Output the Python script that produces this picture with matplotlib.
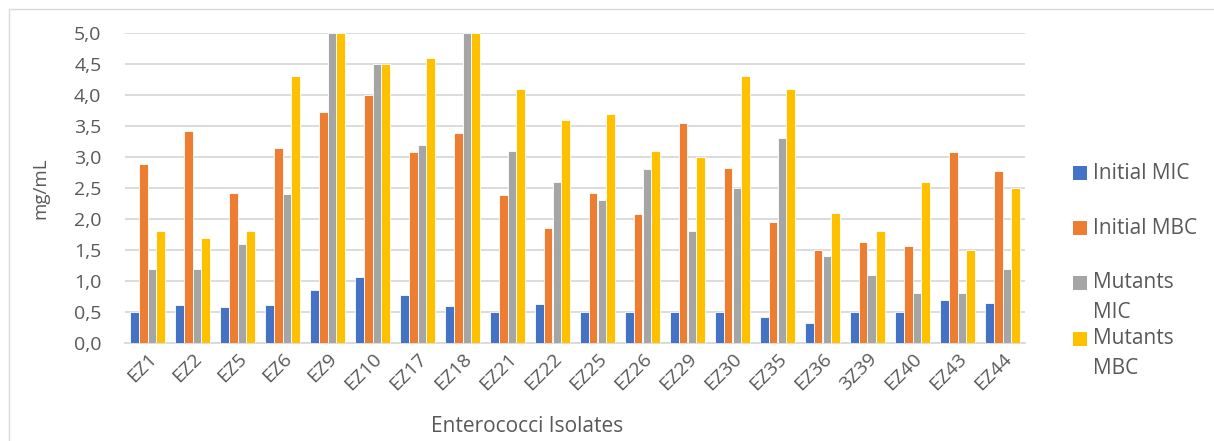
import matplotlib
matplotlib.use("Agg")
import matplotlib.pyplot as plt
import numpy as np
from matplotlib.patches import Rectangle
from matplotlib.ticker import FuncFormatter

categories = ["EZ1", "EZ2", "EZ5", "EZ6", "EZ9", "EZ10", "EZ17", "EZ18", "EZ21", "EZ22",
              "EZ25", "EZ26", "EZ29", "EZ30", "EZ35", "EZ36", "3Z39", "EZ40", "EZ43", "EZ44"]
initial_mic = [0.50, 0.62, 0.58, 0.62, 0.85, 1.07, 0.77, 0.60, 0.50, 0.63,
               0.50, 0.50, 0.50, 0.50, 0.42, 0.33, 0.50, 0.50, 0.70, 0.65]
initial_mbc = [2.88, 3.42, 2.42, 3.15, 3.72, 4.00, 3.08, 3.38, 2.39, 1.85,
               2.42, 2.08, 3.55, 2.83, 1.95, 1.50, 1.63, 1.57, 3.08, 2.77]
mutants_mic = [1.2, 1.2, 1.6, 2.4, 5.0, 4.5, 3.2, 5.0, 3.1, 2.6,
               2.3, 2.8, 1.8, 2.5, 3.3, 1.4, 1.1, 0.8, 0.8, 1.2]
mutants_mbc = [1.8, 1.7, 1.8, 4.3, 5.0, 4.5, 4.6, 5.0, 4.1, 3.6,
               3.7, 3.1, 3.0, 4.3, 4.1, 2.1, 1.8, 2.6, 1.5, 2.5]
series_names = ["Initial MIC", "Initial MBC", "Mutants\nMIC", "Mutants\nMBC"]
colors = ["#4472C4", "#ED7D31", "#A5A5A5", "#FFC000"]

plt.rcParams['font.family'] = ['Open Sans', 'DejaVu Sans']
TXT = "#595959"
W, H = 1214, 441
fig = plt.figure(figsize=(W / 100, H / 100), dpi=100)
fig.patches.append(Rectangle((9 / W, -0.1), 1.2, (H - 9) / H + 0.1, transform=fig.transFigure,
                             fill=False, edgecolor="#D9D9D9", linewidth=1.0))

left, right, top, bottom = 125, 1025, 33, 343
ax = fig.add_axes([left / W, 1 - bottom / H, (right - left) / W, (bottom - top) / H])

x = np.arange(len(categories))
bw = 0.19
all_series = [initial_mic, initial_mbc, mutants_mic, mutants_mbc]
for i, (vals, c, name) in enumerate(zip(all_series, colors, series_names)):
    ax.bar(x + (i - 1.5) * bw, vals, width=bw, color=c, edgecolor="white", linewidth=0.6,
           label=name, zorder=3)

ax.set_xlim(-0.5, len(categories) - 0.5)
ax.set_ylim(0, 5.0)
ax.set_yticks(np.arange(0, 5.01, 0.5))
ax.yaxis.set_major_formatter(FuncFormatter(lambda v, p: f"{v:.1f}".replace(".", ",")))
ax.grid(axis="y", color="#D9D9D9", linewidth=1.3, zorder=0)
ax.set_axisbelow(True)
for s in ["top", "right", "left"]:
    ax.spines[s].set_visible(False)
ax.spines["bottom"].set_color("#D9D9D9")
ax.spines["bottom"].set_linewidth(1.3)
ax.tick_params(axis="both", length=0, colors=TXT, labelsize=14)
ax.tick_params(axis="y", pad=17)
ax.set_xticks(x)
ax.set_xticklabels(categories, rotation=45, ha="right", rotation_mode="anchor")
ax.tick_params(axis="x", pad=5)

fig.text(40 / W, 1 - 188 / H, "mg/mL", rotation=90, ha="center", va="center",
         color=TXT, fontsize=13.5)
fig.text(527 / W, 1 - 427 / H, "Enterococci Isolates", ha="center", va="center",
         color=TXT, fontsize=15)

# legend drawn manually to match spacing
leg_y = [173, 228, 283, 339]
for name, c, yy in zip(series_names, colors, leg_y):
    fig.patches.append(Rectangle((1073 / W, 1 - (yy + 7) / H), 14 / W, 14 / H,
                                 transform=fig.transFigure, facecolor=c, edgecolor="none"))
    lines = name.split("\n")
    for k, ln in enumerate(lines):
        fig.text(1093 / W, 1 - (yy + k * 29) / H, ln, ha="left", va="center",
                 color=TXT, fontsize=15)

fig.savefig("out.png", dpi=100)
